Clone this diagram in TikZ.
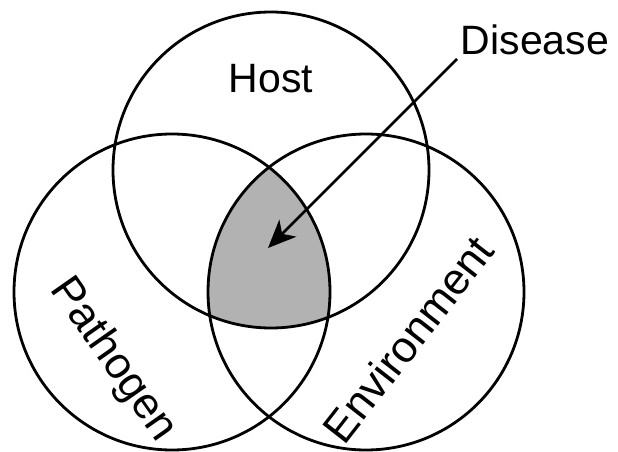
\documentclass[tikz,border=0pt]{standalone}
\usepackage{fontspec}
\setmainfont{Liberation Sans}
\usetikzlibrary{arrows.meta}
\begin{document}
\begin{tikzpicture}[x=1pt,y=-1pt,
  venn/.style={draw=black,line width=2.8pt,circle,minimum size=316pt,inner sep=0pt},
  lbl/.style={font=\fontsize{41}{48}\selectfont,inner sep=0pt},
  rlbl/.style={font=\fontsize{44}{52}\selectfont,inner sep=0pt},
  arr/.style={line width=2.8pt,-{Stealth[length=28pt,width=24pt,inset=8pt]}}]
\useasboundingbox (0,0) rectangle (618,452);
\coordinate (hc) at (271,170);
\coordinate (pc) at (172,292);
\coordinate (ec) at (366,292);
\begin{scope}
  \clip (hc) circle (158pt);
  \clip (pc) circle (158pt);
  \fill[black!30] (ec) circle (158pt);
\end{scope}
\node[venn] (host) at (hc) {};
\node[venn] (pathogen) at (pc) {};
\node[venn] (environment) at (ec) {};
\node[lbl] (hostlbl) at (271,79) {Host};
\node[lbl] (disease) at (535,40) {Disease};
\node[rlbl,rotate=-55] (pathlbl) at (113,360) {Pathogen};
\node[rlbl,rotate=52] (envlbl) at (408,339) {Environment};
\coordinate (astart) at (457,59);
\coordinate (aend) at (268,248);
\draw[arr] (astart) -- (aend);
\end{tikzpicture}
\end{document}
